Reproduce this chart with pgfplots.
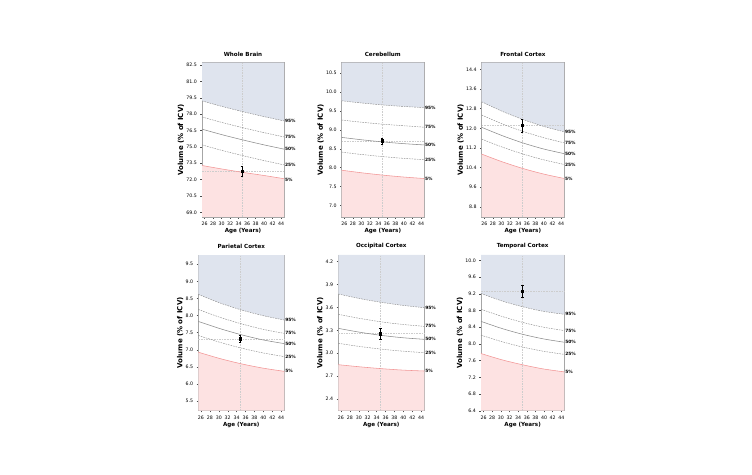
\documentclass[border=0pt]{standalone}
\usepackage{fontspec}
\setmainfont{DejaVu Sans}
\usepackage{pgfplots}
\pgfplotsset{compat=1.18}

\definecolor{upfill}{RGB}{223,228,238}
\definecolor{lowfill}{RGB}{253,226,226}
\definecolor{lowline}{RGB}{242,150,150}
\definecolor{pcline}{RGB}{140,140,140}
\definecolor{refline}{RGB}{205,205,205}

\tikzset{pct/.style={anchor=west, inner sep=0.8pt, font=\bfseries\fontsize{4.4}{5}\selectfont}}

\pgfplotsset{
  panel/.style={
    scale only axis,
    xmin=25.4, xmax=44.7,
    xtick={26,28,...,44},
    clip=false,
    axis line style={draw=black!35, line width=0.5pt},
    tick style={draw=black!70, line width=0.4pt},
    major tick length=1.6pt,
    tick align=outside,
    xtick pos=bottom, ytick pos=left,
    /pgf/number format/assume math mode=true,
    ticklabel style={font=\fontsize{4.7}{5}\selectfont, text=black},
    yticklabel style={/pgf/number format/.cd, fixed, fixed zerofill, precision=1},
    xlabel={Age (Years)},
    ylabel={Volume (\% of ICV)},
    xlabel style={font=\bfseries\fontsize{5.6}{6}\selectfont, yshift=4.5pt},
    ylabel style={font=\bfseries\fontsize{7}{7}\selectfont, yshift=-4.5pt},
    title style={font=\bfseries\fontsize{5.6}{6}\selectfont, yshift=-3pt},
  },
  pc/.style={pcline, line width=0.45pt, dash pattern=on 1.6pt off 1pt},
  pcmid/.style={pcline, line width=0.55pt},
  pclow/.style={lowline, line width=0.55pt},
  refl/.style={refline, line width=0.4pt, dash pattern=on 1.6pt off 1pt},
  subj/.style={black, mark=square*, mark size=1.1pt, line width=0.5pt,
    error bars/.cd, y dir=both, y explicit,
    error bar style={black, line width=0.5pt}, error mark options={black, mark size=1.2pt, rotate=90}},
}

\begin{document}
\begin{tikzpicture}
\path[use as bounding box] (0,0) rectangle (752pt,474pt);

% Whole Brain
\begin{axis}[panel, at={(202pt,257pt)}, anchor=south west, width=82pt, height=154.3pt,
  title={Whole Brain}, ymin=68.57, ymax=82.71, ytick={69,70.5,...,82.6}]
  \addplot[fill=upfill, draw=none] coordinates {(25.4,82.71) (25.4,79.21) (30.225,78.69) (35.05,78.22) (39.875,77.78) (44.7,77.38) (44.7,82.71)} -- cycle;
  \addplot[fill=lowfill, draw=none] coordinates {(25.4,68.57) (25.4,73.29) (30.225,72.96) (35.05,72.66) (39.875,72.38) (44.7,72.08) (44.7,68.57)} -- cycle;
  \addplot[refl] coordinates {(34.8,68.57) (34.8,82.71)};
  \addplot[refl] coordinates {(25.4,72.75) (44.7,72.75)};
  \addplot[pc, smooth] coordinates {(25.4,79.21) (30.225,78.69) (35.05,78.22) (39.875,77.78) (44.7,77.38)};
  \addplot[pc, smooth] coordinates {(25.4,77.74) (30.225,77.22) (35.05,76.75) (39.875,76.31) (44.7,75.91)};
  \addplot[pcmid, smooth] coordinates {(25.4,76.62) (30.225,76.10) (35.05,75.63) (39.875,75.19) (44.7,74.79)};
  \addplot[pc, smooth] coordinates {(25.4,75.18) (30.225,74.66) (35.05,74.19) (39.875,73.75) (44.7,73.35)};
  \addplot[pclow, smooth] coordinates {(25.4,73.29) (30.225,72.96) (35.05,72.66) (39.875,72.38) (44.7,72.08)};
  \addplot[subj] coordinates {(34.8,72.75) +- (0,0.45)};
  \node[pct] at (axis cs:44.7,77.38) {95\%};
  \node[pct] at (axis cs:44.7,75.91) {75\%};
  \node[pct] at (axis cs:44.7,74.79) {50\%};
  \node[pct] at (axis cs:44.7,73.35) {25\%};
  \node[pct] at (axis cs:44.7,72.00) {5\%};
\end{axis}

% Cerebellum
\begin{axis}[panel, at={(341.7pt,257pt)}, anchor=south west, width=82.3pt, height=154.3pt,
  title={Cerebellum}, ymin=6.69, ymax=10.78, ytick={7,7.5,...,10.6}]
  \addplot[fill=upfill, draw=none] coordinates {(25.4,10.78) (25.4,9.77) (30.225,9.71) (35.05,9.66) (39.875,9.62) (44.7,9.59) (44.7,10.78)} -- cycle;
  \addplot[fill=lowfill, draw=none] coordinates {(25.4,6.69) (25.4,7.93) (30.225,7.86) (35.05,7.80) (39.875,7.75) (44.7,7.71) (44.7,6.69)} -- cycle;
  \addplot[refl] coordinates {(34.9,6.69) (34.9,10.78)};
  \addplot[refl] coordinates {(25.4,8.71) (44.7,8.71)};
  \addplot[pc, smooth] coordinates {(25.4,9.77) (30.225,9.71) (35.05,9.66) (39.875,9.62) (44.7,9.59)};
  \addplot[pc, smooth] coordinates {(25.4,9.26) (30.225,9.20) (35.05,9.15) (39.875,9.11) (44.7,9.07)};
  \addplot[pcmid, smooth] coordinates {(25.4,8.80) (30.225,8.735) (35.05,8.68) (39.875,8.635) (44.7,8.60)};
  \addplot[pc, smooth] coordinates {(25.4,8.41) (30.225,8.345) (35.05,8.29) (39.875,8.245) (44.7,8.21)};
  \addplot[pclow, smooth] coordinates {(25.4,7.93) (30.225,7.86) (35.05,7.80) (39.875,7.75) (44.7,7.71)};
  \addplot[subj] coordinates {(34.9,8.71) +- (0,0.08)};
  \node[pct] at (axis cs:44.7,9.59) {95\%};
  \node[pct] at (axis cs:44.7,9.07) {75\%};
  \node[pct] at (axis cs:44.7,8.60) {50\%};
  \node[pct] at (axis cs:44.7,8.21) {25\%};
  \node[pct] at (axis cs:44.7,7.71) {5\%};
\end{axis}

% Frontal Cortex
\begin{axis}[panel, at={(481.7pt,257pt)}, anchor=south west, width=82.3pt, height=154.3pt,
  title={Frontal Cortex}, ymin=8.39, ymax=14.67, ytick={8.8,9.6,...,14.5}]
  \addplot[fill=upfill, draw=none] coordinates {(25.4,14.67) (25.4,13.08) (30.225,12.69) (35.05,12.36) (39.875,12.08) (44.7,11.86) (44.7,14.67)} -- cycle;
  \addplot[fill=lowfill, draw=none] coordinates {(25.4,8.39) (25.4,10.95) (30.225,10.635) (35.05,10.365) (39.875,10.14) (44.7,9.96) (44.7,8.39)} -- cycle;
  \addplot[refl] coordinates {(34.9,8.39) (34.9,14.67)};
  \addplot[refl] coordinates {(25.4,12.11) (44.7,12.11)};
  \addplot[pc, smooth] coordinates {(25.4,13.08) (30.225,12.69) (35.05,12.36) (39.875,12.08) (44.7,11.86)};
  \addplot[pc, smooth] coordinates {(25.4,12.54) (30.225,12.18) (35.05,11.875) (39.875,11.62) (44.7,11.41)};
  \addplot[pcmid, smooth] coordinates {(25.4,12.04) (30.225,11.70) (35.05,11.405) (39.875,11.16) (44.7,10.97)};
  \addplot[pc, smooth] coordinates {(25.4,11.56) (30.225,11.235) (35.05,10.955) (39.875,10.72) (44.7,10.53)};
  \addplot[pclow, smooth] coordinates {(25.4,10.95) (30.225,10.635) (35.05,10.365) (39.875,10.14) (44.7,9.96)};
  \addplot[subj] coordinates {(34.9,12.11) +- (0,0.25)};
  \node[pct] at (axis cs:44.7,11.86) {95\%};
  \node[pct] at (axis cs:44.7,11.41) {75\%};
  \node[pct] at (axis cs:44.7,10.97) {50\%};
  \node[pct] at (axis cs:44.7,10.53) {25\%};
  \node[pct] at (axis cs:44.7,9.96) {5\%};
\end{axis}

% Parietal Cortex
\begin{axis}[panel, at={(198.3pt,63.3pt)}, anchor=south west, width=86pt, height=155.7pt,
  title={Parietal Cortex}, ymin=5.22, ymax=9.77, ytick={5.5,6,...,9.6}]
  \addplot[fill=upfill, draw=none] coordinates {(25.4,9.77) (25.4,8.62) (30.225,8.37) (35.05,8.165) (39.875,8.00) (44.7,7.87) (44.7,9.77)} -- cycle;
  \addplot[fill=lowfill, draw=none] coordinates {(25.4,5.22) (25.4,6.93) (30.225,6.745) (35.05,6.59) (39.875,6.465) (44.7,6.37) (44.7,5.22)} -- cycle;
  \addplot[refl] coordinates {(34.8,5.22) (34.8,9.77)};
  \addplot[refl] coordinates {(25.4,7.32) (44.7,7.32)};
  \addplot[pc, smooth] coordinates {(25.4,8.62) (30.225,8.37) (35.05,8.165) (39.875,8.00) (44.7,7.87)};
  \addplot[pc, smooth] coordinates {(25.4,8.18) (30.225,7.95) (35.05,7.76) (39.875,7.60) (44.7,7.48)};
  \addplot[pcmid, smooth] coordinates {(25.4,7.83) (30.225,7.62) (35.05,7.44) (39.875,7.29) (44.7,7.18)};
  \addplot[pc, smooth] coordinates {(25.4,7.42) (30.225,7.22) (35.05,7.05) (39.875,6.91) (44.7,6.80)};
  \addplot[pclow, smooth] coordinates {(25.4,6.93) (30.225,6.745) (35.05,6.59) (39.875,6.465) (44.7,6.37)};
  \addplot[subj] coordinates {(34.8,7.32) +- (0,0.10)};
  \node[pct] at (axis cs:44.7,7.87) {95\%};
  \node[pct] at (axis cs:44.7,7.48) {75\%};
  \node[pct] at (axis cs:44.7,7.18) {50\%};
  \node[pct] at (axis cs:44.7,6.80) {25\%};
  \node[pct] at (axis cs:44.7,6.37) {5\%};
\end{axis}

% Occipital Cortex
\begin{axis}[panel, at={(338.3pt,63.3pt)}, anchor=south west, width=86pt, height=155.7pt,
  title={Occipital Cortex}, ymin=2.247, ymax=4.287, ytick={2.4,2.7,...,4.25}]
  \addplot[fill=upfill, draw=none] coordinates {(25.4,4.287) (25.4,3.776) (30.225,3.716) (35.05,3.667) (39.875,3.627) (44.7,3.597) (44.7,4.287)} -- cycle;
  \addplot[fill=lowfill, draw=none] coordinates {(25.4,2.247) (25.4,2.850) (30.225,2.822) (35.05,2.798) (39.875,2.779) (44.7,2.767) (44.7,2.247)} -- cycle;
  \addplot[refl] coordinates {(34.9,2.247) (34.9,4.287)};
  \addplot[refl] coordinates {(25.4,3.256) (44.7,3.256)};
  \addplot[pc, smooth] coordinates {(25.4,3.776) (30.225,3.716) (35.05,3.667) (39.875,3.627) (44.7,3.597)};
  \addplot[pc, smooth] coordinates {(25.4,3.510) (30.225,3.456) (35.05,3.411) (39.875,3.377) (44.7,3.352)};
  \addplot[pcmid, smooth] coordinates {(25.4,3.326) (30.225,3.275) (35.05,3.234) (39.875,3.203) (44.7,3.182)};
  \addplot[pc, smooth] coordinates {(25.4,3.130) (30.225,3.088) (35.05,3.054) (39.875,3.027) (44.7,3.007)};
  \addplot[pclow, smooth] coordinates {(25.4,2.850) (30.225,2.822) (35.05,2.798) (39.875,2.779) (44.7,2.767)};
  \addplot[subj] coordinates {(34.9,3.256) +- (0,0.07)};
  \node[pct] at (axis cs:44.7,3.597) {95\%};
  \node[pct] at (axis cs:44.7,3.352) {75\%};
  \node[pct] at (axis cs:44.7,3.182) {50\%};
  \node[pct] at (axis cs:44.7,3.007) {25\%};
  \node[pct] at (axis cs:44.7,2.767) {5\%};
\end{axis}

% Temporal Cortex
\begin{axis}[panel, at={(481pt,63.3pt)}, anchor=south west, width=83.3pt, height=155.7pt,
  title={Temporal Cortex}, ymin=6.4, ymax=10.13, ytick={6.4,6.8,...,10.1}]
  \addplot[fill=upfill, draw=none] coordinates {(25.4,10.13) (25.4,9.21) (30.225,9.03) (35.05,8.89) (39.875,8.78) (44.7,8.71) (44.7,10.13)} -- cycle;
  \addplot[fill=lowfill, draw=none] coordinates {(25.4,6.4) (25.4,7.77) (30.225,7.62) (35.05,7.50) (39.875,7.40) (44.7,7.33) (44.7,6.4)} -- cycle;
  \addplot[refl] coordinates {(35.0,6.4) (35.0,10.13)};
  \addplot[refl] coordinates {(25.4,9.27) (44.7,9.27)};
  \addplot[pc, smooth] coordinates {(25.4,9.21) (30.225,9.03) (35.05,8.89) (39.875,8.78) (44.7,8.71)};
  \addplot[pc, smooth] coordinates {(25.4,8.83) (30.225,8.66) (35.05,8.515) (39.875,8.40) (44.7,8.32)};
  \addplot[pcmid, smooth] coordinates {(25.4,8.54) (30.225,8.37) (35.05,8.23) (39.875,8.12) (44.7,8.04)};
  \addplot[pc, smooth] coordinates {(25.4,8.21) (30.225,8.054) (35.05,7.925) (39.875,7.824) (44.7,7.75)};
  \addplot[pclow, smooth] coordinates {(25.4,7.77) (30.225,7.62) (35.05,7.50) (39.875,7.40) (44.7,7.33)};
  \addplot[subj] coordinates {(35.0,9.27) +- (0,0.14)};
  \node[pct] at (axis cs:44.7,8.71) {95\%};
  \node[pct] at (axis cs:44.7,8.32) {75\%};
  \node[pct] at (axis cs:44.7,8.04) {50\%};
  \node[pct] at (axis cs:44.7,7.75) {25\%};
  \node[pct] at (axis cs:44.7,7.33) {5\%};
\end{axis}
\end{tikzpicture}
\end{document}
